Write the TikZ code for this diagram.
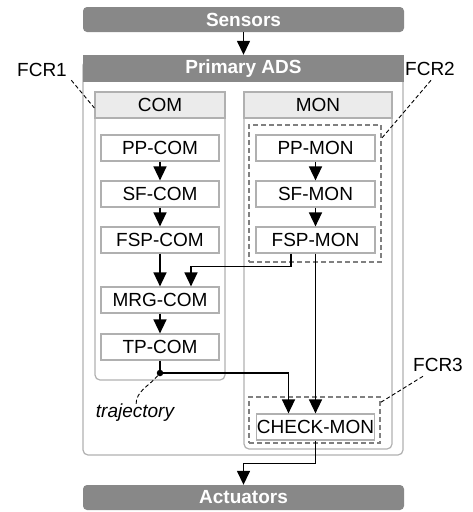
\documentclass[tikz,border=0pt]{standalone}
\usepackage{fontspec}
\setmainfont{Liberation Sans}
\usetikzlibrary{arrows.meta,positioning}
\definecolor{bargray}{HTML}{888888}
\definecolor{headgray}{HTML}{EBEBEB}
\definecolor{linegray}{HTML}{B0B0B0}
\definecolor{dashgray}{HTML}{808080}
\tikzset{every picture/.style={/utils/exec={\fontsize{19}{22}\selectfont}}}

\begin{document}
\begin{tikzpicture}[x=1pt, y=1pt, node distance=46pt]
  \tikzstyle{bar} = [rectangle, rounded corners=4pt, fill=bargray, text=white, font=\bfseries, minimum width=321pt, minimum height=25pt, inner sep=0pt]
  \tikzstyle{head} = [rectangle, draw=linegray, fill=headgray, line width=1.2pt, minimum height=26pt, inner sep=0pt]
  \tikzstyle{func} = [rectangle, draw=linegray, fill=white, line width=1.2pt, minimum width=118pt, minimum height=26pt, inner sep=0pt]
  \tikzstyle{body} = [draw=linegray, line width=1.2pt, rounded corners=5pt]
  \tikzstyle{fcr} = [rectangle, draw=dashgray, dash pattern=on 5pt off 3pt, line width=1.1pt, inner sep=0pt]
  \tikzstyle{leader} = [dash pattern=on 4pt off 2.5pt, line width=0.9pt]
  \tikzstyle{arrow} = [-{Triangle[width=13pt,length=14pt]}, line width=1.5pt]

  \useasboundingbox (0,0) rectangle (472,-512);

  % system boxes
  \node (sensors) [bar] at (243.5,-19.5) {Sensors};
  \draw [body] (83,-60) rectangle (403,-455);
  \node (ads) [bar, rounded corners=0pt, minimum width=321pt, minimum height=27pt] at (243.5,-68.5) {Primary ADS};
  \node (act) [bar] at (243.5,-497.5) {Actuators};

  % channels
  \draw [body] (95,-100) rectangle (225,-380);
  \node (comhead) [head, minimum width=130pt] at (160,-105) {COM};
  \draw [body] (244,-100) rectangle (392,-449);
  \node (monhead) [head, minimum width=148pt] at (318,-105) {MON};

  % fault containment regions
  \node (fcr2box) [fcr, minimum width=132pt, minimum height=137pt] at (315,-193.5) {};
  \node (fcr3box) [fcr, minimum width=131pt, minimum height=46pt] at (314.5,-420) {};

  \node (pp-com) [func] at (160,-148) {PP-COM};
  \node (sf-com) [func, below of=pp-com] {SF-COM};
  \node (fsp-com) [func, below of=sf-com] {FSP-COM};
  \node (mrg-com) [func] at (160,-300) {MRG-COM};
  \node (tp-com) [func, below of=mrg-com, node distance=47pt] {TP-COM};

  \node (pp-mon) [func, minimum width=119pt] at (315.5,-148) {PP-MON};
  \node (sf-mon) [func, minimum width=119pt, below of=pp-mon] {SF-MON};
  \node (fsp-mon) [func, minimum width=119pt, below of=sf-mon] {FSP-MON};
  \node (check) [func] at (315.5,-427) {CHECK-MON};

  \node (dot) [circle, fill=black, inner sep=0pt, minimum size=6.5pt] at (160,-373) {};

  \draw [arrow] (sensors) -- (ads);
  \draw [arrow] (pp-com) -- (sf-com);
  \draw [arrow] (sf-com) -- (fsp-com);
  \draw [arrow] (fsp-com) -- (mrg-com);
  \draw [arrow] (mrg-com) -- (tp-com);
  \draw [arrow] (pp-mon) -- (sf-mon);
  \draw [arrow] (sf-mon) -- (fsp-mon);
  % cross-channel and to the checker
  \draw [arrow] ([xshift=-24.5pt]fsp-mon.south) |- ([xshift=31pt,yshift=20pt]mrg-com.north) -- ([xshift=31pt]mrg-com.north);
  \draw [arrow] (fsp-mon) -- (check);
  \draw [line width=1.5pt] (tp-com) -- (dot);
  \draw [arrow] (dot) -| ([xshift=-27pt]check.north);
  \draw [arrow] (check.south) -- ++(0,-23) -| (act.north);

  % labels
  \node (traj) [font=\itshape, inner sep=1pt] at (135,-413) {trajectory};
  \draw [leader] (dot) to[out=-130, in=90] ([xshift=1pt,yshift=-2pt]traj.north);

  \node (fcr1) at (42,-70) {FCR1};
  \node (fcr2) at (430,-69) {FCR2};
  \node (fcr3) at (438,-365) {FCR3};
  \draw [leader] ([xshift=-2pt,yshift=3pt]fcr1.south east) -- ([yshift=-3pt]comhead.west);
  \draw [leader] ([xshift=1pt,yshift=2pt]fcr2.south) -- ([yshift=-14pt]fcr2box.north east);
  \draw [leader] ([xshift=-15pt,yshift=2pt]fcr3.south) -- ([yshift=-6pt]fcr3box.north east);
\end{tikzpicture}
\end{document}
